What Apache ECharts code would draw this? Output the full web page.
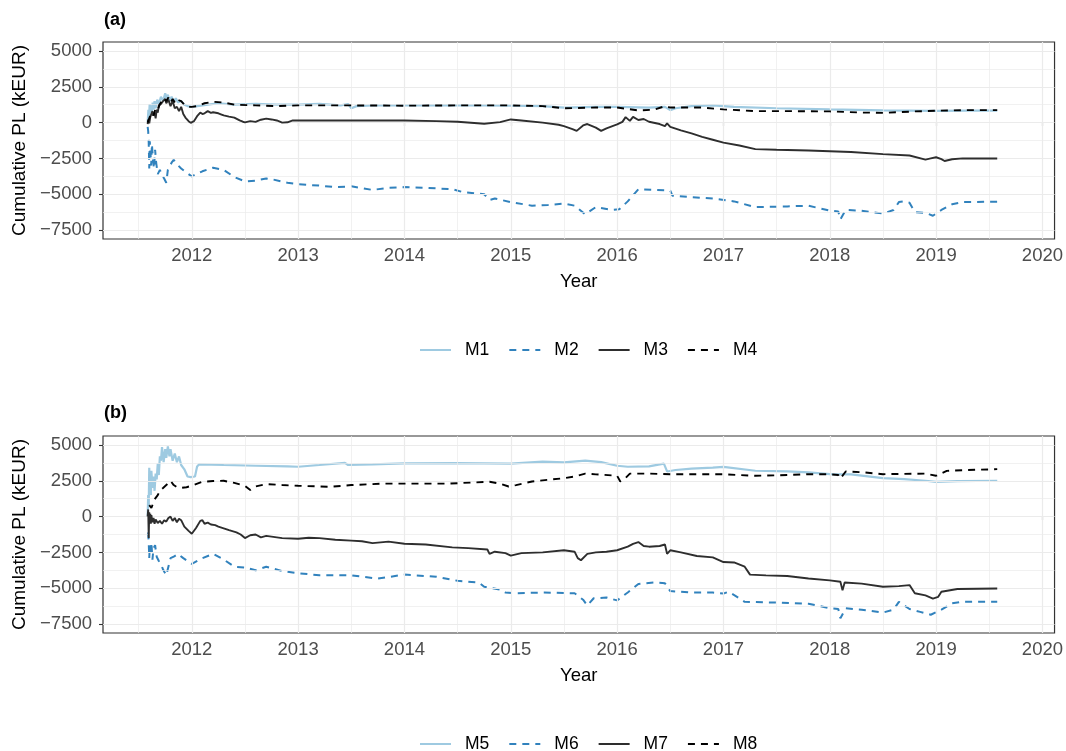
<!DOCTYPE html>
<html><head><meta charset="utf-8">
<script src="https://cdn.jsdelivr.net/npm/echarts@6/dist/echarts.min.js"></script>
<style>html,body{margin:0;padding:0;background:#fff}#c{width:1066px;height:751px}</style>
</head><body><div id="c"></div>
<script>
const xTicks = [2012, 2013, 2014, 2015, 2016, 2017, 2018, 2019, 2020];
const xMinor = [2011.5, 2012.5, 2013.5, 2014.5, 2015.5, 2016.5, 2017.5, 2018.5, 2019.5];
const yTicks = [-7500, -5000, -2500, 0, 2500, 5000];
const yMinor = [-6250, -3750, -1250, 1250, 3750];
const panelLabels = ['(a)', '(b)'];
const namesA = ['M1', 'M2', 'M3', 'M4'];
const namesB = ['M5', 'M6', 'M7', 'M8'];

const M1 = [[2011.585,0],[2011.592,900],[2011.598,400],[2011.604,1300],[2011.61,700],[2011.617,1200],[2011.624,600],[2011.632,1400],[2011.64,900],[2011.65,1500],[2011.66,1000],[2011.675,1600],[2011.69,1300],[2011.71,1800],[2011.73,1500],[2011.75,2050],[2011.76,1700],[2011.775,1950],[2011.79,1500],[2011.81,1800],[2011.83,1450],[2011.85,1700],[2011.87,1400],[2011.9,1500],[2011.93,1250],[2011.96,1150],[2012.0,1100],[2012.1,1200],[2012.25,1350],[2012.4,1250],[2012.6,1300],[2012.8,1250],[2013.0,1250],[2013.2,1300],[2013.4,1200],[2013.47,1300],[2013.5,1000],[2013.55,1150],[2013.7,1200],[2014.0,1200],[2014.5,1220],[2015.0,1180],[2015.3,1150],[2015.5,1050],[2015.8,1100],[2016.0,1100],[2016.3,1050],[2016.45,1100],[2016.5,870],[2016.55,1000],[2016.7,1150],[2016.9,1200],[2017.1,1100],[2017.5,1000],[2018.0,920],[2018.5,850],[2019.0,820],[2019.3,830],[2019.575,830]];
const M2 = [[2011.585,-300],[2011.59,-600],[2011.595,-1400],[2011.6,-3200],[2011.605,-1300],[2011.612,-2200],[2011.618,-3000],[2011.625,-1500],[2011.635,-2600],[2011.645,-3200],[2011.655,-1900],[2011.665,-2800],[2011.68,-3600],[2011.7,-3300],[2011.72,-3700],[2011.74,-3900],[2011.76,-4200],[2011.775,-3300],[2011.79,-3100],[2011.81,-2800],[2011.83,-2600],[2011.86,-2900],[2011.9,-3200],[2011.95,-3500],[2012.0,-3750],[2012.1,-3400],[2012.2,-3150],[2012.3,-3300],[2012.4,-3800],[2012.5,-4100],[2012.6,-4050],[2012.7,-3900],[2012.75,-3950],[2012.9,-4200],[2013.0,-4300],[2013.2,-4400],[2013.35,-4500],[2013.5,-4450],[2013.7,-4700],[2013.85,-4550],[2014.0,-4500],[2014.2,-4550],[2014.45,-4650],[2014.55,-4850],[2014.75,-5000],[2014.8,-5400],[2014.85,-5300],[2015.0,-5550],[2015.2,-5800],[2015.35,-5750],[2015.5,-5650],[2015.6,-5800],[2015.7,-6400],[2015.8,-5900],[2015.95,-6100],[2016.02,-6050],[2016.1,-5500],[2016.2,-4650],[2016.35,-4700],[2016.5,-4750],[2016.52,-5100],[2016.7,-5200],[2016.9,-5300],[2017.1,-5500],[2017.3,-5900],[2017.6,-5850],[2017.8,-5800],[2018.0,-6150],[2018.08,-6200],[2018.1,-6750],[2018.15,-6100],[2018.3,-6150],[2018.5,-6350],[2018.6,-6100],[2018.65,-5550],[2018.7,-5500],[2018.75,-5600],[2018.8,-6250],[2018.9,-6300],[2018.97,-6500],[2019.05,-6100],[2019.15,-5700],[2019.25,-5550],[2019.575,-5520]];
const M3 = [[2011.585,-100],[2011.59,200],[2011.6,-50],[2011.61,400],[2011.62,300],[2011.63,800],[2011.64,500],[2011.65,700],[2011.66,300],[2011.67,900],[2011.68,700],[2011.69,1200],[2011.71,1300],[2011.73,1500],[2011.75,1650],[2011.76,1350],[2011.78,1600],[2011.8,1150],[2011.82,1500],[2011.84,1000],[2011.86,1100],[2011.88,800],[2011.9,1100],[2011.92,600],[2011.94,350],[2011.97,100],[2011.99,-20],[2012.02,100],[2012.05,450],[2012.08,700],[2012.1,600],[2012.12,650],[2012.15,800],[2012.18,680],[2012.2,720],[2012.25,650],[2012.28,560],[2012.3,500],[2012.35,420],[2012.4,350],[2012.45,150],[2012.48,60],[2012.5,20],[2012.55,100],[2012.6,50],[2012.65,200],[2012.7,280],[2012.75,220],[2012.8,150],[2012.85,0],[2012.9,20],[2012.95,150],[2013.5,150],[2014.0,150],[2014.3,100],[2014.5,60],[2014.75,-80],[2014.9,30],[2015.0,220],[2015.1,150],[2015.3,0],[2015.45,-150],[2015.5,-250],[2015.58,-450],[2015.62,-580],[2015.68,-200],[2015.72,-100],[2015.8,-350],[2015.85,-580],[2015.9,-400],[2016.0,-130],[2016.05,50],[2016.08,380],[2016.12,120],[2016.15,400],[2016.2,180],[2016.25,250],[2016.3,60],[2016.4,-100],[2016.45,-250],[2016.47,-50],[2016.5,-300],[2016.6,-540],[2016.7,-750],[2016.8,-1000],[2016.9,-1200],[2017.0,-1400],[2017.15,-1600],[2017.3,-1850],[2017.5,-1900],[2017.8,-1950],[2018.0,-2000],[2018.2,-2050],[2018.5,-2200],[2018.75,-2300],[2018.9,-2580],[2018.95,-2500],[2019.0,-2420],[2019.05,-2550],[2019.08,-2680],[2019.15,-2560],[2019.25,-2500],[2019.575,-2510]];
const M4 = [[2011.585,0],[2011.6,300],[2011.62,700],[2011.64,500],[2011.66,1000],[2011.68,900],[2011.7,1300],[2011.72,1500],[2011.74,1700],[2011.76,1500],[2011.78,1750],[2011.8,1400],[2011.82,1650],[2011.85,1300],[2011.88,1550],[2011.9,1500],[2011.93,1250],[2011.97,1100],[2012.0,1100],[2012.05,1150],[2012.12,1350],[2012.2,1450],[2012.3,1400],[2012.4,1250],[2012.6,1200],[2012.8,1150],[2013.0,1200],[2013.5,1200],[2014.0,1180],[2014.5,1200],[2015.0,1200],[2015.3,1150],[2015.5,1000],[2015.8,1050],[2016.0,1050],[2016.2,850],[2016.35,900],[2016.45,1150],[2016.5,1050],[2016.8,1050],[2017.0,920],[2017.3,800],[2017.6,800],[2018.0,780],[2018.3,700],[2018.5,680],[2018.8,780],[2019.0,830],[2019.3,870],[2019.575,870]];
const M5 = [[2011.585,0],[2011.59,1500],[2011.595,800],[2011.6,3400],[2011.605,1800],[2011.61,2900],[2011.615,1500],[2011.62,3200],[2011.63,2000],[2011.64,2800],[2011.65,1800],[2011.66,3000],[2011.67,2600],[2011.68,3700],[2011.69,2900],[2011.7,4200],[2011.71,3900],[2011.72,4850],[2011.735,3800],[2011.75,4700],[2011.76,4100],[2011.775,4900],[2011.79,4200],[2011.8,4700],[2011.82,3900],[2011.84,4400],[2011.86,3800],[2011.88,4200],[2011.9,3600],[2011.93,3300],[2011.96,2800],[2011.99,2750],[2012.03,2800],[2012.05,3500],[2012.07,3650],[2012.3,3600],[2012.6,3550],[2012.9,3500],[2013.0,3480],[2013.2,3600],[2013.44,3750],[2013.47,3600],[2013.7,3650],[2014.0,3720],[2014.5,3730],[2015.0,3700],[2015.3,3830],[2015.5,3780],[2015.7,3900],[2015.85,3800],[2016.0,3550],[2016.1,3480],[2016.3,3500],[2016.44,3700],[2016.47,3150],[2016.55,3250],[2016.7,3350],[2016.9,3420],[2017.0,3470],[2017.3,3200],[2017.6,3150],[2017.8,3080],[2018.0,2960],[2018.2,2950],[2018.5,2680],[2018.7,2620],[2018.9,2500],[2019.0,2420],[2019.2,2480],[2019.575,2500]];
const M6 = [[2011.59,-1100],[2011.595,-1800],[2011.6,-2900],[2011.605,-2000],[2011.612,-2700],[2011.62,-1800],[2011.63,-3000],[2011.64,-2200],[2011.655,-2000],[2011.67,-2800],[2011.69,-3100],[2011.71,-3300],[2011.73,-3700],[2011.76,-4100],[2011.78,-3500],[2011.8,-2900],[2011.83,-2800],[2011.87,-2600],[2011.92,-2900],[2012.0,-3300],[2012.1,-2900],[2012.2,-2600],[2012.3,-3000],[2012.4,-3500],[2012.5,-3550],[2012.6,-3750],[2012.7,-3500],[2012.85,-3800],[2013.0,-3950],[2013.2,-4100],[2013.5,-4100],[2013.75,-4330],[2014.0,-4050],[2014.3,-4200],[2014.5,-4480],[2014.7,-4600],[2014.75,-4900],[2014.9,-5100],[2014.95,-5300],[2015.05,-5350],[2015.3,-5300],[2015.6,-5350],[2015.68,-5800],[2015.72,-6200],[2015.78,-5700],[2015.9,-5650],[2016.0,-5850],[2016.1,-5300],[2016.2,-4700],[2016.35,-4600],[2016.45,-4650],[2016.5,-5200],[2016.7,-5300],[2016.9,-5300],[2017.0,-5370],[2017.05,-5250],[2017.15,-5700],[2017.2,-5950],[2017.5,-6000],[2017.8,-6080],[2018.0,-6400],[2018.08,-6450],[2018.1,-7100],[2018.15,-6400],[2018.3,-6500],[2018.5,-6700],[2018.6,-6500],[2018.65,-5950],[2018.7,-6200],[2018.75,-6450],[2018.85,-6650],[2018.95,-6850],[2019.05,-6500],[2019.15,-6050],[2019.25,-5950],[2019.575,-5950]];
const M7 = [[2011.585,0],[2011.59,500],[2011.595,-1500],[2011.6,300],[2011.605,-300],[2011.61,200],[2011.615,-500],[2011.62,100],[2011.63,-400],[2011.64,-100],[2011.65,-500],[2011.66,-200],[2011.68,-450],[2011.7,-300],[2011.72,-500],[2011.74,-250],[2011.76,-350],[2011.78,-100],[2011.8,0],[2011.82,-300],[2011.84,-100],[2011.86,-400],[2011.88,-150],[2011.9,-250],[2011.93,-700],[2011.97,-1000],[2012.0,-1200],[2012.04,-800],[2012.08,-300],[2012.1,-250],[2012.12,-500],[2012.15,-420],[2012.18,-550],[2012.22,-600],[2012.25,-700],[2012.3,-820],[2012.35,-950],[2012.42,-1100],[2012.46,-1250],[2012.5,-1500],[2012.55,-1300],[2012.6,-1250],[2012.65,-1450],[2012.7,-1350],[2012.75,-1400],[2012.85,-1500],[2013.0,-1550],[2013.1,-1480],[2013.2,-1500],[2013.35,-1620],[2013.5,-1680],[2013.6,-1720],[2013.7,-1850],[2013.85,-1750],[2014.0,-1900],[2014.2,-1950],[2014.45,-2150],[2014.6,-2200],[2014.78,-2300],[2014.8,-2600],[2014.85,-2450],[2014.95,-2550],[2015.0,-2720],[2015.1,-2550],[2015.3,-2500],[2015.5,-2350],[2015.6,-2450],[2015.63,-2900],[2015.66,-3050],[2015.72,-2600],[2015.8,-2500],[2015.9,-2450],[2016.0,-2350],[2016.1,-2100],[2016.15,-1900],[2016.2,-1780],[2016.25,-2050],[2016.3,-2100],[2016.4,-2050],[2016.45,-1950],[2016.47,-2600],[2016.5,-2350],[2016.6,-2500],[2016.75,-2750],[2016.9,-2850],[2017.0,-3170],[2017.1,-3200],[2017.2,-3500],[2017.25,-4050],[2017.4,-4100],[2017.6,-4150],[2017.8,-4320],[2018.0,-4450],[2018.1,-4550],[2018.12,-5150],[2018.14,-4600],[2018.3,-4680],[2018.5,-4900],[2018.65,-4850],[2018.75,-4780],[2018.8,-5350],[2018.9,-5500],[2018.97,-5720],[2019.02,-5600],[2019.05,-5250],[2019.2,-5050],[2019.575,-5020]];
const M8 = [[2011.6,800],[2011.62,600],[2011.65,1200],[2011.68,1500],[2011.7,1800],[2011.73,2000],[2011.76,2200],[2011.8,2500],[2011.83,2200],[2011.86,2050],[2011.9,2000],[2011.95,2050],[2012.0,2150],[2012.1,2430],[2012.2,2480],[2012.3,2500],[2012.4,2350],[2012.5,2150],[2012.55,1850],[2012.6,2100],[2012.7,2270],[2012.85,2200],[2013.0,2150],[2013.3,2080],[2013.5,2200],[2013.8,2300],[2014.0,2300],[2014.4,2300],[2014.8,2430],[2014.9,2300],[2014.98,2100],[2015.05,2200],[2015.2,2450],[2015.5,2680],[2015.6,2800],[2015.7,3000],[2015.8,2950],[2016.0,2850],[2016.03,2450],[2016.08,2700],[2016.12,3000],[2016.3,3000],[2016.5,2960],[2016.8,2960],[2017.0,2950],[2017.3,2850],[2017.5,2880],[2017.8,2960],[2018.0,2950],[2018.08,2900],[2018.1,2650],[2018.15,3150],[2018.3,3100],[2018.5,2960],[2018.7,2980],[2018.9,3000],[2019.0,2850],[2019.1,3190],[2019.3,3250],[2019.575,3310]];

const panelA = [M1, M2, M3, M4];
const panelB = [M5, M6, M7, M8];

const styles = [
  { color: '#9ecae1', width: 2.2, type: 'solid' },
  { color: '#3182bd', width: 2.0, type: [7, 6] },
  { color: '#2e2e2e', width: 1.9, type: 'solid' },
  { color: '#000000', width: 1.9, type: [7, 6] }
];

const FONT = 'Liberation Sans, Arial, sans-serif';
const GRID_TOPS = [42, 436];
const PLOT_H = 197;

const fmtY = v => v < 0 ? '\u2212' + Math.abs(v) : String(v);

const grids = [], xAxes = [], yAxes = [], series = [], titles = [], legends = [];
[0, 1].forEach(p => {
  grids.push({ left: 103, top: GRID_TOPS[p], width: 954, height: PLOT_H, show: true,
    borderColor: '#333333', borderWidth: 1.2, backgroundColor: 'transparent', containLabel: false });
  xAxes.push({ type: 'value', gridIndex: p, min: 2011.165, max: 2020.114,
    name: 'Year', nameLocation: 'middle', nameGap: 33,
    nameTextStyle: { color: '#000', fontSize: 18.5, fontFamily: FONT },
    axisLine: { show: false },
    axisTick: { show: true, length: 4, lineStyle: { color: '#333333', width: 1.1 }, customValues: xTicks },
    axisLabel: { show: true, customValues: xTicks, color: '#4d4d4d', fontSize: 18.5, fontFamily: FONT, margin: 7,
      formatter: v => String(Math.round(v)) },
    splitLine: { show: false } });
  yAxes.push({ type: 'value', gridIndex: p, min: -8125, max: 5625,
    name: 'Cumulative PL (kEUR)', nameLocation: 'middle', nameGap: 72, nameRotate: 90,
    nameTextStyle: { color: '#000', fontSize: 19, fontFamily: FONT },
    axisLine: { show: false },
    axisTick: { show: true, length: 4, lineStyle: { color: '#333333', width: 1.1 }, customValues: yTicks },
    axisLabel: { show: true, customValues: yTicks, color: '#4d4d4d', fontSize: 18.5, fontFamily: FONT, margin: 11,
      formatter: fmtY },
    splitLine: { show: false } });
  const major = [], minor = [];
  xTicks.forEach(v => major.push({ xAxis: v }));
  yTicks.forEach(v => major.push({ yAxis: v }));
  xMinor.forEach(v => minor.push({ xAxis: v }));
  yMinor.forEach(v => minor.push({ yAxis: v }));
  series.push({ type: 'line', xAxisIndex: p, yAxisIndex: p, data: [], silent: true, z: 1,
    markLine: { silent: true, symbol: 'none', animation: false, label: { show: false },
      lineStyle: { color: '#ebebeb', width: 1.2, type: 'solid' }, emphasis: { disabled: true }, data: major } });
  series.push({ type: 'line', xAxisIndex: p, yAxisIndex: p, data: [], silent: true, z: 1,
    markLine: { silent: true, symbol: 'none', animation: false, label: { show: false },
      lineStyle: { color: '#ebebeb', width: 0.7, type: 'solid' }, emphasis: { disabled: true }, data: minor } });
  const names = p === 0 ? namesA : namesB;
  const data = p === 0 ? panelA : panelB;
  names.forEach((n, i) => {
    series.push({ name: n, type: 'line', xAxisIndex: p, yAxisIndex: p, data: data[i],
      showSymbol: false, symbol: 'none', z: 3 + i, animation: false,
      lineStyle: { color: styles[i].color, width: styles[i].width, type: styles[i].type },
      itemStyle: { color: styles[i].color },
      emphasis: { disabled: true } });
  });
  titles.push({ text: panelLabels[p], left: 99, top: p === 0 ? 6 : 399,
    textStyle: { fontSize: 18, fontWeight: 'bold', color: '#000', fontFamily: FONT } });
  legends.push({ data: names, left: 414, top: p === 0 ? 336 : 730, itemWidth: 31, itemHeight: 14, itemGap: 19,
    selectedMode: false, itemStyle: { opacity: 0 },
    textStyle: { fontSize: 17.5, color: '#000', fontFamily: FONT, padding: [0, 0, 0, 9] } });
});

const chart = echarts.init(document.getElementById('c'), null, { renderer: 'canvas' });
chart.setOption({
  animation: false,
  backgroundColor: '#ffffff',
  title: titles,
  legend: legends,
  grid: grids,
  xAxis: xAxes,
  yAxis: yAxes,
  series: series
});
</script></body></html>
